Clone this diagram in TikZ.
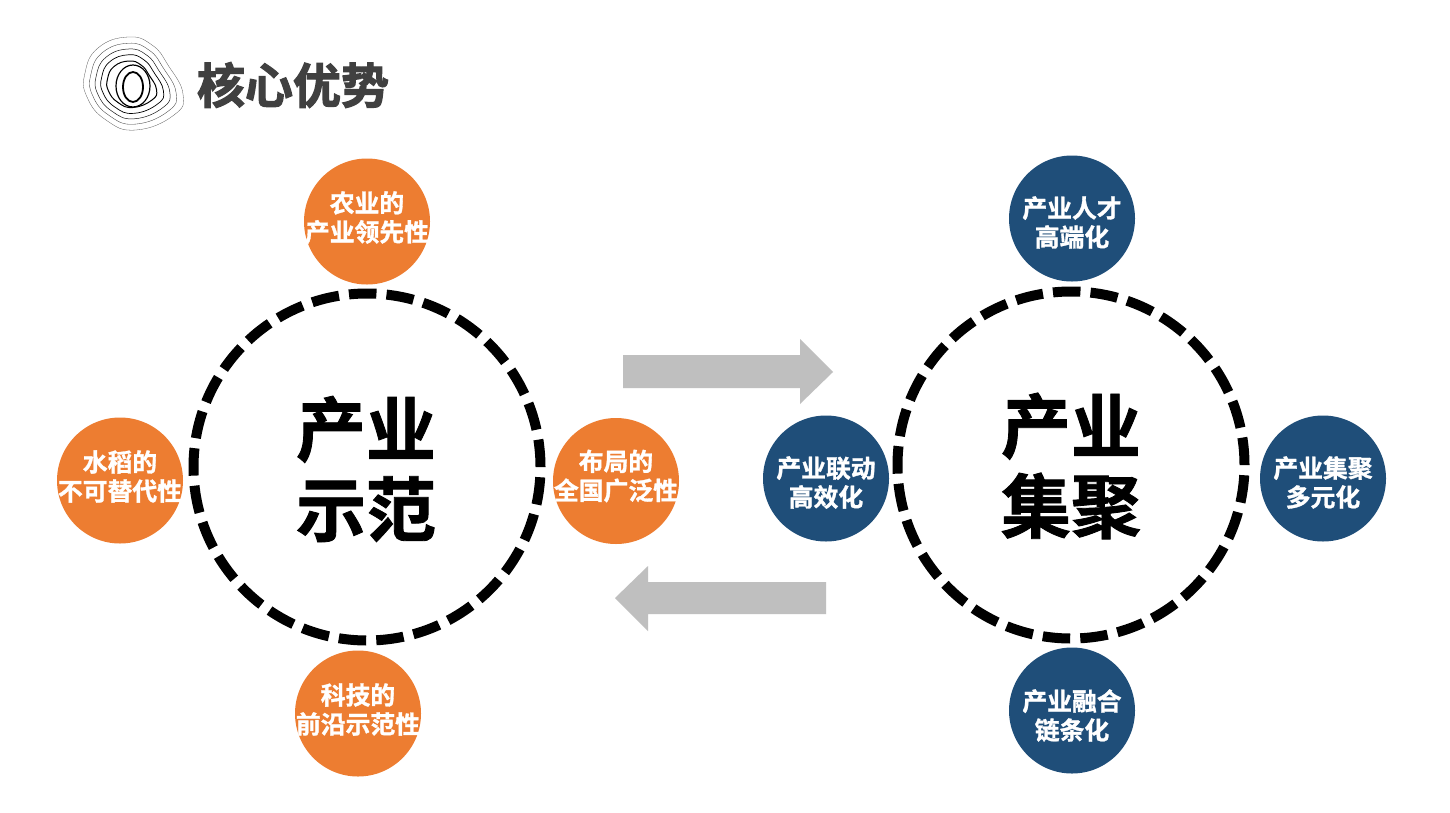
\documentclass[tikz,border=0pt]{standalone}
\usepackage{fontspec}
\setmainfont[BoldFont=* Bold,BoldFeatures={FakeBold=1.2}]{Noto Sans CJK SC}
\newfontfamily\titlefont[BoldFont=* Bold,BoldFeatures={FakeBold=2.4}]{Noto Sans CJK SC}
\usetikzlibrary{shapes.geometric}
\definecolor{orangeb}{HTML}{ED7D31}
\definecolor{blueb}{HTML}{1F4E79}
\definecolor{greya}{HTML}{BFBFBF}
\definecolor{titlec}{HTML}{404040}
\tikzset{
 bub/.style={circle,minimum size=126pt,inner sep=0pt},
 orangebub/.style={bub,fill=orangeb},
 bluebub/.style={bub,fill=blueb},
 bubtxt/.style={text=white,font=\bfseries\fontsize{24.8}{29}\selectfont,align=center,inner sep=0pt},
 bigtxt/.style={text=black,font=\bfseries\fontsize{70}{80}\selectfont,align=center,inner sep=0pt},
 ring/.style={circle,draw=black,line width=10pt,minimum size=347pt,inner sep=0pt,dash pattern=on 27.5pt off 10.09pt},
 flow/.style={fill=greya,draw=none},
 contour/.style={draw=black,line cap=round,line join=round}
}
\begin{document}
\begin{tikzpicture}[x=1pt,y=-1pt]
\useasboundingbox (0,0) rectangle (1450,812);
\fill[white] (0,0) rectangle (1450,812);
% logo
\foreach \s/\w/\g in {1/0.3/65,0.87/0.35/75,0.75/0.5/90,0.63/0.7/100,0.5/1.0/100}{
 \draw[contour,line width=\w pt,draw=black!\g]
  plot[smooth cycle,tension=0.8] coordinates {
  ({130+\s*(-2)},{85+\s*(-48)}) ({130+\s*22},{85+\s*(-40)}) ({130+\s*38},{85+\s*(-20)}) ({130+\s*53},{85+\s*9})
  ({130+\s*44},{85+\s*30}) ({130+\s*6},{85+\s*45}) ({130+\s*(-24)},{85+\s*35}) ({130+\s*(-43)},{85+\s*12}) ({130+\s*(-45)},{85+\s*(-12)}) ({130+\s*(-32)},{85+\s*(-37)})};
}
\draw[contour,line width=1.2pt] (133,86) ellipse (17pt and 21pt);
\draw[contour,line width=1.8pt] (133,87) ellipse (10pt and 15pt);
% title
\node[inner sep=0pt,text=titlec,font=\titlefont\bfseries\fontsize{48}{48}\selectfont] (title) at (293,85) {核心优势};
% rings
\node[ring] (ringL) at (367,467) {};
\node[ring] (ringR) at (1071,465) {};
\node[bigtxt] (bigL) at (366,469) {产业\\示范};
\node[bigtxt] (bigR) at (1071,466) {产业\\集聚};
% bubbles
\node[orangebub] (o1) at (367,221.5) {};
\node[orangebub] (o2) at (120,480.5) {};
\node[orangebub] (o3) at (616,481) {};
\node[orangebub] (o4) at (358,713.5) {};
\node[bluebub] (b1) at (1072,218.5) {};
\node[bluebub] (b2) at (826,478.5) {};
\node[bluebub] (b3) at (1323,478.5) {};
\node[bluebub] (b4) at (1072,710.5) {};
\node[bubtxt] at ([yshift=4pt]o1) {农业的\\产业领先性};
\node[bubtxt] at ([yshift=4pt]o2) {水稻的\\不可替代性};
\node[bubtxt] at ([yshift=5pt]o3) {布局的\\全国广泛性};
\node[bubtxt] at ([yshift=4pt]o4) {科技的\\前沿示范性};
\node[bubtxt] at ([yshift=-4pt]b1) {产业人才\\高端化};
\node[bubtxt] at ([yshift=-4pt]b2) {产业联动\\高效化};
\node[bubtxt] at ([yshift=-4pt]b3) {产业集聚\\多元化};
\node[bubtxt] at ([yshift=-5pt]b4) {产业融合\\链条化};
% arrows
\fill[flow] (623,355) -- (800,355) -- (800,339) -- (833,372) -- (800,404) -- (800,388) -- (623,388) -- cycle;
\fill[flow] (826,582) -- (648,582) -- (648,566) -- (615,598) -- (648,631) -- (648,614) -- (826,614) -- cycle;
\end{tikzpicture}
\end{document}
